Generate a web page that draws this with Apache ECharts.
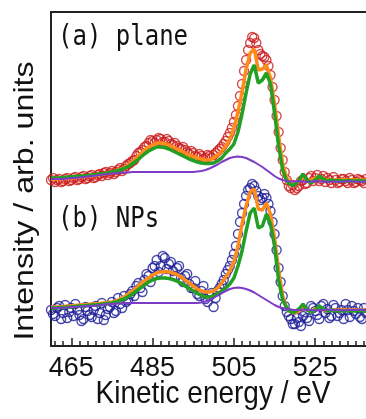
<!DOCTYPE html>
<html><head><meta charset="utf-8">
<script src="https://cdn.jsdelivr.net/npm/echarts@6/dist/echarts.min.js"></script>
<style>html,body{margin:0;padding:0;background:#fff;overflow:hidden}#c{width:366px;height:419px}</style>
</head><body><div id="c"></div>
<script>
// Kinetic energy grid (eV)
const energy = [
 460,461,462,463,464,465,466,467,468,469,
 470,471,472,473,474,475,476,477,478,479,
 480,481,482,483,484,485,486,487,488,489,
 490,491,492,493,494,495,496,497,498,499,
 500,501,502,503,504,505,506,507,508,509,
 510,511,512,513,514,515,516,517,518,519,
 520,521,522,523,524,525,526,527,528,529,
 530,531,532,533,534,535,536,537,538,539,
 540];
const energyHalf = [
 460.5,461.5,462.5,463.5,464.5,465.5,466.5,467.5,468.5,469.5,
 470.5,471.5,472.5,473.5,474.5,475.5,476.5,477.5,478.5,479.5,
 480.5,481.5,482.5,483.5,484.5,485.5,486.5,487.5,488.5,489.5,
 490.5,491.5,492.5,493.5,494.5,495.5,496.5,497.5,498.5,499.5,
 500.5,501.5,502.5,503.5,504.5,505.5,506.5,507.5,508.5,509.5,
 510.5,511.5,512.5,513.5,514.5,515.5,516.5,517.5,518.5,519.5,
 520.5,521.5,522.5,523.5,524.5,525.5,526.5,527.5,528.5,529.5,
 530.5,531.5,532.5,533.5,534.5,535.5,536.5,537.5,538.5,539.5];
// (a) plane: measured (red circles) at integer and half-integer energies
const redA = [
 166,164,167,165,168,166,169,167,170,168,
 171,169,172,173,171,175,174,178,177,182,
 185,190,194,199,203,205,206,207,204,205,
 201,200,197,196,192,193,189,190,188,190,
 191,195,199,205,213,224,240,262,286,303,
 308,296,290,286,271,246,214,186,166,158,
 156,160,166,163,170,168,165,170,168,163,
 166,164,167,163,166,164,166,163,165,164,
 166];
const redAHalf = [
 168,166,164,167,165,168,166,169,167,170,
 168,171,170,174,173,172,176,175,180,183,
 186,193,196,200,206,203,208,204,207,202,
 203,198,199,194,195,190,192,187,191,188,
 193,197,202,209,218,231,250,275,296,309,
 303,292,289,280,259,230,198,174,160,161,
 158,165,162,168,165,171,167,164,166,169,
 163,167,165,168,163,167,165,167,163,166];
const orangeA = [
 167,167,167,167.5,168,168,168.5,169,169.5,170,
 170.5,171,171.5,172,173,174,175,176.5,178.5,181,
 184,188,192,196,199,201,203,203,202.5,201,
 199,197,195,193,191,189.5,188,187,186,186,
 188,191,195,200,207,218,234,254,277,293,
 297,276,277,281,268,242,210,182,168,164,
 163,166,169,166,166,168,169,167,166,166,
 166,166,166.5,166,166,166,166,166,166,166,
 166];
const greenA = [
 168,168,168,168.5,169,169,169.5,170,170,170.5,
 171,171.5,172,172.5,173,174,175,176,177.5,179.5,
 182,185,188.5,192,195,197,199,199,198.5,197,
 195,193,191,189,187,185.5,184,183,182.5,182.5,
 183,185,188,193,197,202,214,232,253,272,
 281,263,266,273,262,233,200,176,165,161,
 161,166,172,166,163,166,170,167,165,166,
 165,165.5,165,165.5,165,165,165.5,165,165,165,
 165];
const purpleA = [
 167,167,167,167,167.5,168,168,168.5,169,169.5,
 170,170.5,171,171.5,172,172.5,173,173,173.5,173.5,
 174,174,174,174,174,174,174,174,174,174,
 174,174,174,174,174,174,174.5,175,176,177.5,
 179.5,181.5,184,186,188,189,189.5,189,188,186,
 184,181.5,179,176,173,170,167.5,166,165,164.5,
 164.5,165,164.5,164,164.5,165,164.5,164.5,164,164.5,
 164.5,164,164.5,165,164.5,164.5,164,164.5,164.5,165,
 164.5];
// (b) NPs: measured (blue circles)
const blueB = [
 36,30,40,33,28,38,42,31,27,35,
 29,40,33,26,37,44,35,42,50,46,
 55,60,58,66,70,78,86,80,88,82,
 75,78,68,70,62,58,52,55,47,50,
 39,55,62,72,80,92,112,133,150,158,
 160,150,148,148,135,112,78,50,34,27,
 22,24,30,28,40,35,27,42,37,30,
 38,33,27,36,40,32,29,38,34,30,
 36];
const blueBHalf = [
 32,38,27,41,34,30,36,25,39,31,
 36,27,43,31,39,33,48,38,44,52,
 50,63,54,72,64,80,74,90,77,84,
 70,80,64,72,58,65,50,60,44,53,
 48,58,66,76,86,100,124,142,156,162,
 155,146,152,142,124,96,64,40,30,22,
 28,20,34,25,38,31,40,33,28,41,
 30,36,42,29,35,38,27,33,40,31];
const orangeB = [
 39,39,39,39.5,40,40,40.5,41,41,41.5,
 42,42,42.5,43,43.5,44,45,47,49,52,
 55,58,62,65,68,71,73,74,74.5,74,
 73,71.5,69,66,63,60,57,55,54,54,
 55,58,63,69,75,84,100,122,140,154,
 157,137,136,143,132,108,76,50,38,34,
 33,35,38,36,35,37,38,36,35,36,
 36,36,36.5,36,36,36,36,36,36,36,
 36];
const greenB = [
 38,38,38.5,38.5,39,39,39.5,40,40,40.5,
 41,41,41.5,42,42.5,43,44,45.5,47,49.5,
 52,55,58,61,64,66,67.5,68,68,67.5,
 66.5,65,62.5,60,57.5,55,52.5,50.5,49,49,
 50,52,55,58,62,68,80,95,115,133,
 138,118,120,132,122,100,66,46,38,34,
 34,37,42,36,34,36,40,37,35,36,
 35,35.5,35,35.5,35,35,35.5,35,35,35,
 35];
const purpleB = [
 38,38,38,38.5,38.5,39,39,39.5,39.5,40,
 40,40.5,41,41.5,42,42,42.5,42.5,43,43,
 43,43,43,43,43,43,43,43,43,43,
 43,43,43,43,43,43,43,43.5,44.5,46,
 48,50.5,53,55,57,58,58.5,58,57,55.5,
 53.5,51,48.5,46,43.5,41,39,38,37,36.5,
 36,36,36.5,36,36,35.5,36,36,36.5,36,
 36,36,35.5,36,36,36,36.5,36,36,36,
 36];
// Axis ticks / labels
const majorTicks = [465,485,505,525];
const minorTicks = [461,463,465,467,469,471,473,475,477,479,481,483,485,487,489,491,493,495,497,499,
 501,503,505,507,509,511,513,515,517,519,521,523,525,527,529,531,533,535,537];
const xTitle = 'Kinetic energy / eV';
const yTitle = 'Intensity / arb. units';
const labelA = '(a) plane';
const labelB = '(b) NPs';

const pair = (xs, arr) => xs.map((e, i) => [e, arr[i]]);
const lineS = (arr, color, w) => ({type:'line', data: pair(energy, arr), showSymbol:false, symbol:'none',
  lineStyle:{color:color, width:w}, itemStyle:{color:color}, z:3, silent:true});
const dotS = (arr, arrHalf, color) => ({type:'scatter',
  data: pair(energy, arr).concat(pair(energyHalf, arrHalf)), symbol:'circle', symbolSize:9,
  itemStyle:{color:'rgba(255,255,255,0)', borderColor:color, borderWidth:1.4}, z:2, silent:true});

// visible window: 460 .. 537.5 eV over 315 px (same 4.0625 px/eV scale)
const X_MIN = 460, X_MAX = 537.5;
const chart = echarts.init(document.getElementById('c'), null, {renderer:'canvas'});
chart.setOption({
  animation:false,
  grid:{left:51, top:12, width:315, height:334, show:false, containLabel:false, outerBoundsMode:'none'},
  xAxis:[
    {type:'value', min:X_MIN, max:X_MAX, position:'bottom',
     axisLine:{show:true, onZero:false, lineStyle:{color:'#222', width:2}},
     axisTick:{show:true, inside:true, length:5, customValues:minorTicks, lineStyle:{color:'#222', width:1.5}},
     axisLabel:{show:false}, splitLine:{show:false}},
    {type:'value', min:X_MIN, max:X_MAX, position:'bottom',
     axisLine:{show:false, onZero:false},
     axisTick:{show:true, inside:true, length:8, customValues:majorTicks, lineStyle:{color:'#222', width:1.5}},
     axisLabel:{show:true, customValues:majorTicks, fontSize:27, fontFamily:'Liberation Sans', color:'#111', margin:9},
     splitLine:{show:false}}
  ],
  yAxis:{type:'value', min:0, max:334,
    axisLine:{show:true, onZero:false, lineStyle:{color:'#222', width:2}},
    axisTick:{show:false}, axisLabel:{show:false}, splitLine:{show:false}},
  graphic:[
    {type:'line', silent:true, shape:{x1:50, y1:12, x2:366, y2:12}, style:{stroke:'#222', lineWidth:2}},
    {type:'text', x:25, y:201, rotation:Math.PI/2, scaleX:1.15,
     style:{text:yTitle, font:'28px "Liberation Sans"', fill:'#111', align:'center', verticalAlign:'middle'}},
    {type:'text', x:213, y:394, scaleY:1.15,
     style:{text:xTitle, font:'28px "Liberation Sans"', fill:'#111', align:'center', verticalAlign:'middle'}},
    {type:'text', x:58, y:37.5, scaleY:1.15,
     style:{text:labelA, font:'24px "DejaVu Sans Mono"', fill:'#111', align:'left', verticalAlign:'middle'}},
    {type:'text', x:58, y:219.5, scaleY:1.15,
     style:{text:labelB, font:'24px "DejaVu Sans Mono"', fill:'#111', align:'left', verticalAlign:'middle'}}
  ],
  series:[
    dotS(redA, redAHalf, '#cc1a1a'),
    lineS(orangeA, '#ff8c1a', 3.5),
    lineS(greenA, '#23a023', 3.5),
    lineS(purpleA, '#7d3cc8', 2),
    dotS(blueB, blueBHalf, '#1c1c96'),
    lineS(orangeB, '#ff8c1a', 3.5),
    lineS(greenB, '#23a023', 3.5),
    lineS(purpleB, '#7d3cc8', 2)
  ]
});
</script>
</body></html>
